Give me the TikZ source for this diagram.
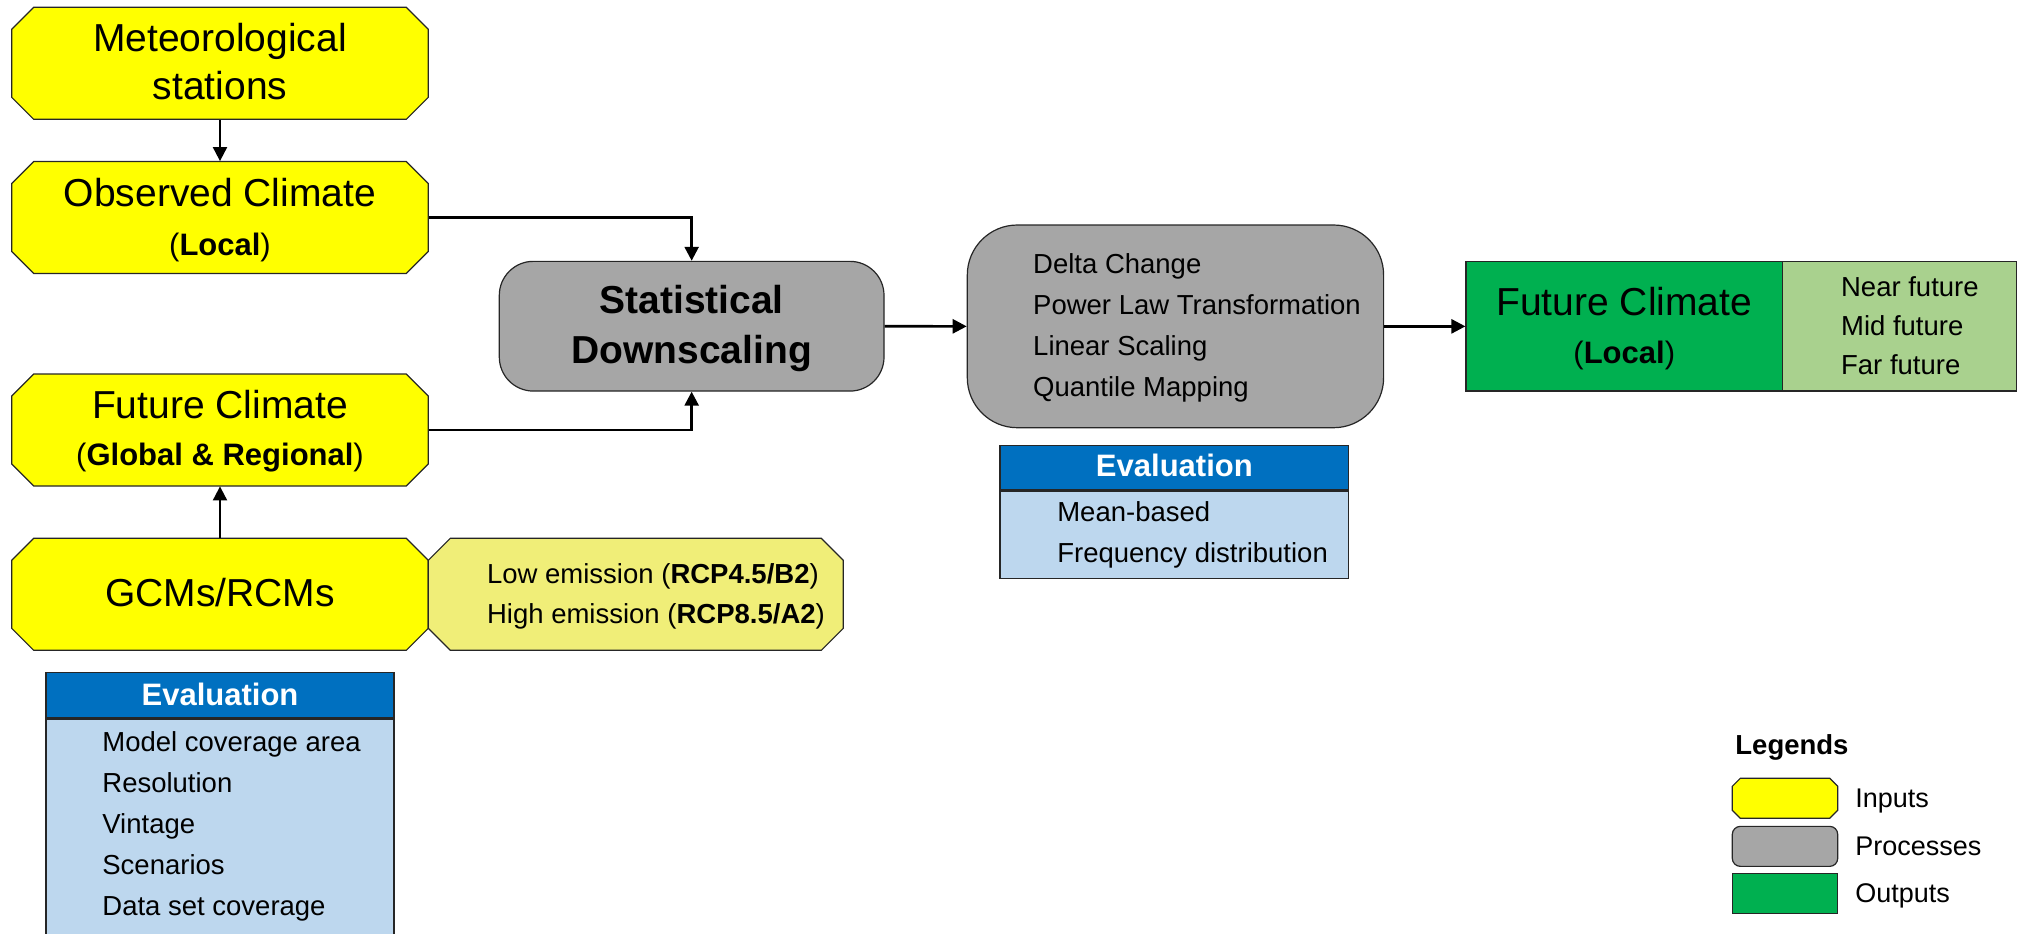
\documentclass[tikz,border=0pt]{standalone}
\usepackage{fontspec}
\setmainfont{Liberation Sans}
\usetikzlibrary{arrows.meta,calc}
\definecolor{inyellow}{HTML}{FFFF00}
\definecolor{emyellow}{HTML}{F0EE78}
\definecolor{procgray}{HTML}{A6A6A6}
\definecolor{outgreen}{HTML}{00B050}
\definecolor{sidegreen}{HTML}{A9D18E}
\definecolor{evblue}{HTML}{0070C0}
\definecolor{evlight}{HTML}{BDD7EE}
\definecolor{edgec}{HTML}{262626}
% name, cx, cy, half width, half height, cut, fill  (all in px units)
\newcommand{\octshape}[7]{%
  \path[fill=#7, draw=edgec, line width=0.6pt]
    ({#2-#4+#6},{#3-#5}) -- ({#2+#4-#6},{#3-#5}) -- ({#2+#4},{#3-#5+#6}) --
    ({#2+#4},{#3+#5-#6}) -- ({#2+#4-#6},{#3+#5}) -- ({#2-#4+#6},{#3+#5}) --
    ({#2-#4},{#3+#5-#6}) -- ({#2-#4},{#3-#5+#6}) -- cycle;
  \node[inner sep=0, minimum width={#4pt}, minimum height={#5pt}] (#1) at (#2,#3) {};
}
\tikzset{
  bigtxt/.style={font=\fontsize{19.5}{23}\selectfont, inner sep=0},
  medtxt/.style={font=\fontsize{15.5}{19}\selectfont, inner sep=0},
  smalltxt/.style={font=\fontsize{13.75}{16}\selectfont, inner sep=0},
  hdrtxt/.style={font=\fontsize{15.5}{19}\selectfont\bfseries, text=white, inner sep=0},
  legtxt/.style={font=\fontsize{13.5}{16}\selectfont, inner sep=0},
  procbox/.style={rectangle, fill=procgray, draw=edgec, line width=0.6pt, inner sep=0},
  plainbox/.style={rectangle, draw=edgec, line width=0.6pt, inner sep=0},
  conn/.style={line width=1.3pt, -{Triangle[length=7pt,width=7pt]}},
  thinconn/.style={line width=1pt, -{Triangle[length=7pt,width=7pt]}}
}
\begin{document}
\begin{tikzpicture}[x=0.5pt,y=-0.5pt]
\useasboundingbox (0,0) rectangle (2021,933);
\clip (0,0) rectangle (2021,933);

% ---------- input boxes ----------
\octshape{met}{220}{63.3}{208.3}{56}{22}{inyellow}
\octshape{obs}{220}{217.5}{208.3}{56}{22}{inyellow}
\octshape{futg}{220}{430}{208.3}{56}{22}{inyellow}
\octshape{gcm}{220}{594.3}{208.3}{56}{22}{inyellow}
\octshape{emis}{635.8}{594.3}{207.5}{56}{22}{emyellow}

\node[bigtxt, anchor=base] (metT1) at (220,51.7) {Meteorological};
\node[bigtxt, anchor=base] (metT2) at (220,99) {stations};
\node[bigtxt, anchor=base] (obsT1) at (220,206) {Observed Climate};
\node[medtxt, anchor=base] (obsT2) at (220,255) {(\textbf{Local})};
\node[bigtxt, anchor=base] (futgT1) at (220,418.3) {Future Climate};
\node[medtxt, anchor=base] (futgT2) at (220,465) {(\textbf{Global \& Regional})};
\node[bigtxt, anchor=base] (gcmT) at (220,606) {GCMs/RCMs};
\node[smalltxt, anchor=base west] (emisT1) at (486.7,583.3) {Low emission (\textbf{RCP4.5/B2})};
\node[smalltxt, anchor=base west] (emisT2) at (486.7,623.3) {High emission (\textbf{RCP8.5/A2})};

% ---------- left evaluation ----------
\node[plainbox, fill=evlight, minimum width=174pt, minimum height=113.5pt] (evlb) at (220,831.5) {};
\node[plainbox, fill=evblue, minimum width=174pt, minimum height=22.65pt] (evlh) at (220,695.35) {};
\draw[edgec, line width=1pt] (evlh.south west) -- (evlh.south east);
\node[hdrtxt, anchor=base] (evlT) at (220,705) {Evaluation};
\node[smalltxt, anchor=base west] (evl1) at (102,751) {Model coverage area};
\node[smalltxt, anchor=base west] (evl2) at (102,792) {Resolution};
\node[smalltxt, anchor=base west] (evl3) at (102,833) {Vintage};
\node[smalltxt, anchor=base west] (evl4) at (102,874) {Scenarios};
\node[smalltxt, anchor=base west] (evl5) at (102,915) {Data set coverage};

% ---------- processes ----------
\node[procbox, rounded corners=17pt, minimum width=192.35pt, minimum height=64.85pt] (sd) at (691.65,326.2) {};
\node[bigtxt, font=\fontsize{19.5}{23}\selectfont\bfseries, anchor=base] (sdT1) at (691.65,313) {Statistical};
\node[bigtxt, font=\fontsize{19.5}{23}\selectfont\bfseries, anchor=base] (sdT2) at (691.65,363) {Downscaling};

\node[procbox, rounded corners=25pt, minimum width=208.15pt, minimum height=101.35pt] (meth) at (1175.45,326.35) {};
\node[smalltxt, anchor=base west] (meth1) at (1032.8,273.3) {Delta Change};
\node[smalltxt, anchor=base west] (meth2) at (1032.8,314.5) {Power Law Transformation};
\node[smalltxt, anchor=base west] (meth3) at (1032.8,355.5) {Linear Scaling};
\node[smalltxt, anchor=base west] (meth4) at (1032.8,396.5) {Quantile Mapping};

% ---------- middle evaluation ----------
\node[plainbox, fill=evlight, minimum width=174.35pt, minimum height=44.15pt] (evmb) at (1174.35,534.15) {};
\node[plainbox, fill=evblue, minimum width=174.35pt, minimum height=22.15pt] (evmh) at (1174.35,467.85) {};
\draw[edgec, line width=1pt] (evmh.south west) -- (evmh.south east);
\node[hdrtxt, anchor=base] (evmT) at (1174.35,476.7) {Evaluation};
\node[smalltxt, anchor=base west] (evm1) at (1056.9,521.5) {Mean-based};
\node[smalltxt, anchor=base west] (evm2) at (1056.9,562) {Frequency distribution};

% ---------- output ----------
\node[plainbox, fill=outgreen, minimum width=158.25pt, minimum height=64.65pt] (green) at (1624.25,326.35) {};
\node[plainbox, fill=sidegreen, minimum width=117.15pt, minimum height=64.65pt] (side) at (1899.65,326.35) {};
\node[bigtxt, anchor=base] (greenT1) at (1624.25,315) {Future Climate};
\node[medtxt, anchor=base] (greenT2) at (1624.25,363) {(\textbf{Local})};
\node[smalltxt, anchor=base west] (side1) at (1840.7,296.7) {Near future};
\node[smalltxt, anchor=base west] (side2) at (1840.7,335.5) {Mid future};
\node[smalltxt, anchor=base west] (side3) at (1840.7,374) {Far future};

% ---------- connectors ----------
\draw[thinconn] (met.south) -- (obs.north);
\draw[thinconn] (gcm.north) -- (futg.south);
\draw[conn] (obs.east) -| (sd.north);
\draw[conn] (futg.east) -| (sd.south);
\draw[conn] (sd.east) -- (meth.west);
\draw[conn] (meth.east) -- (green.west);

% ---------- legend ----------
\node[legtxt, font=\fontsize{13.75}{16}\selectfont\bfseries, anchor=base west] (legT) at (1735,754) {Legends};
\octshape{legin}{1785}{798.3}{52.7}{20}{8}{inyellow}
\node[procbox, rounded corners=4pt, minimum width=52.7pt, minimum height=20pt] (legproc) at (1785,846.35) {};
\node[plainbox, fill=outgreen, minimum width=52.7pt, minimum height=20pt] (legout) at (1785,893.65) {};
\node[legtxt, anchor=base west] (leg1) at (1855,807.3) {Inputs};
\node[legtxt, anchor=base west] (leg2) at (1855,855) {Processes};
\node[legtxt, anchor=base west] (leg3) at (1855,902.7) {Outputs};
\end{tikzpicture}
\end{document}
